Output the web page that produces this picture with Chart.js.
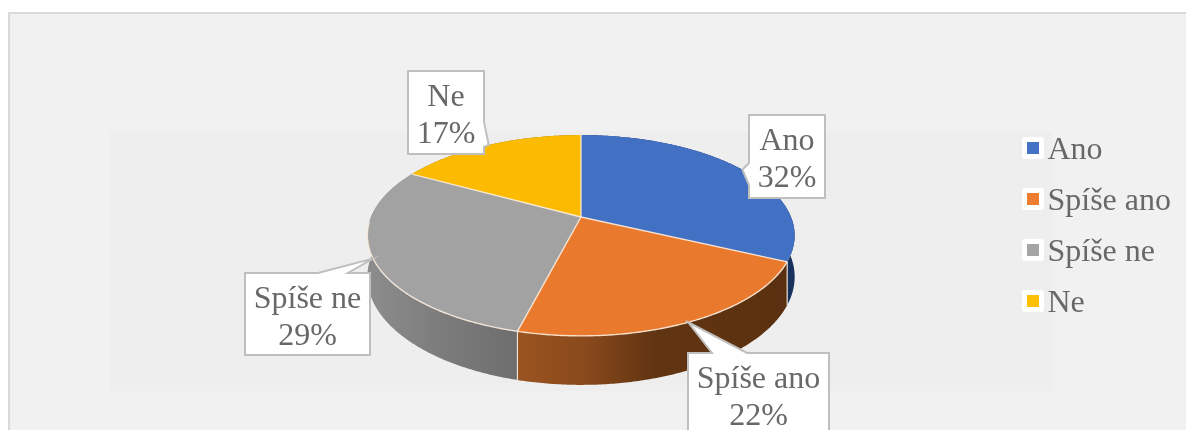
<!DOCTYPE html>
<html><head><meta charset="utf-8">
<style>html,body{margin:0;padding:0;background:#fff;overflow:hidden}canvas{display:block}</style>
<script src="https://cdn.jsdelivr.net/npm/chart.js@4"></script>
</head><body><canvas id="c" width="1186" height="430"></canvas>
<script>
const categories = ['Ano', 'Spíše ano', 'Spíše ne', 'Ne'];
const values = [32, 22, 29, 17];
const sliceColors = ['#4270c2', '#e9792c', '#a2a2a2', '#fcbb00'];
const FONT = '"Liberation Serif", serif';
const TEXT = '#686868';

// projective view of the disc
const view = {cx: 581, cy: 217, R: 210, S: 97, p: 0.184, D: 40};
function project(a, depth) {
  const u = Math.cos(a), v = Math.sin(a), w = 1 - view.p * v;
  return [view.cx + view.R * u / w, view.cy + (view.S * v + (depth ? view.D : 0)) / w];
}
function rim(ctx, a0, a1, depth, moveFirst) {
  const n = Math.max(4, Math.ceil(Math.abs(a1 - a0) / 0.01));
  for (let i = 0; i <= n; i++) {
    const p = project(a0 + (a1 - a0) * i / n, depth);
    if (i === 0 && moveFirst) ctx.moveTo(p[0], p[1]); else ctx.lineTo(p[0], p[1]);
  }
}
const wallStops = [
  [[0, '#17305c'], [1, '#17305c']],
  [[0, '#9a5420'], [0.25, '#8a4a1c'], [0.5, '#623512'], [1, '#5a3010']],
  [[0, '#8c8c8c'], [0.5, '#7c7c7c'], [1, '#6e6e6e']],
  [[0, '#8a6a00'], [1, '#8a6a00']]
];
const wallSpan = [[770, 800], [515, 790], [370, 515], [400, 590]];
const boxes = [
  {x: 749, y: 115, w: 76, h: 83, side: 'left', b0: 163, b1: 185},
  {x: 688, y: 353, w: 141, h: 90, side: 'top', b0: 712, b1: 747},
  {x: 245, y: 273, w: 125, h: 82, side: 'top', b0: 318, b1: 348},
  {x: 408, y: 71, w: 76, h: 83, side: 'right', b0: 122, b1: 147}
];

const pie3d = {
  id: 'pie3d',
  beforeDraw(chart) {
    const c = chart.ctx;
    c.save();
    c.fillStyle = '#ffffff'; c.fillRect(0, 0, 1186, 430);
    c.fillStyle = '#f1f1f1'; c.fillRect(9, 13, 1180, 430);
    c.strokeStyle = '#d9d9d9'; c.lineWidth = 2; c.strokeRect(9, 13, 1180, 430);
    c.fillStyle = '#eeeeee'; c.fillRect(110, 131, 942, 260);
    c.restore();
  },
  beforeDatasetDraw(chart) {
    const c = chart.ctx, arcs = chart.getDatasetMeta(0).data;
    c.save();
    const order = [3, 0, 2, 1];
    order.forEach(i => {
      const el = arcs[i], a0 = el.startAngle, a1 = el.endAngle;
      const g = c.createLinearGradient(wallSpan[i][0], 0, wallSpan[i][1], 0);
      wallStops[i].forEach(s => g.addColorStop(s[0], s[1]));
      c.beginPath();
      rim(c, a0, a1, false, true);
      rim(c, a1, a0, true, false);
      c.closePath();
      c.fillStyle = g; c.fill();
    });
    // seam on the visible wall edges
    c.strokeStyle = 'rgba(255,245,235,0.85)'; c.lineWidth = 1.2;
    [1, 2].forEach(i => {
      const a = arcs[i].endAngle;
      if (Math.sin(a) > 0) {
        const p = project(a, false), q = project(a, true);
        c.beginPath(); c.moveTo(p[0], p[1]); c.lineTo(q[0], q[1]); c.stroke();
      }
    });
    const ab = arcs[0].endAngle, pb = project(ab, false), qb = project(ab, true);
    c.beginPath(); c.moveTo(pb[0], pb[1]); c.lineTo(qb[0], qb[1]); c.stroke();
    arcs.forEach((el, i) => {
      c.beginPath();
      c.moveTo(view.cx, view.cy);
      rim(c, el.startAngle, el.endAngle, false, false);
      c.closePath();
      c.fillStyle = sliceColors[i]; c.fill();
    });
    // slice separators and light front edge
    c.strokeStyle = 'rgba(255,240,225,0.85)'; c.lineWidth = 1.4;
    arcs.forEach(el => {
      const p = project(el.startAngle, false);
      c.beginPath(); c.moveTo(view.cx, view.cy); c.lineTo(p[0], p[1]); c.stroke();
    });
    c.beginPath();
    rim(c, arcs[0].endAngle, arcs[2].endAngle - 0.55, false, true);
    c.stroke();
    c.restore();
    return false;
  },
  afterDatasetsDraw(chart) {
    const c = chart.ctx, arcs = chart.getDatasetMeta(0).data;
    const total = values.reduce((a, b) => a + b, 0);
    c.save();
    arcs.forEach((el, i) => {
      const b = boxes[i], tip = project((el.startAngle + el.endAngle) / 2, false);
      c.beginPath();
      c.moveTo(b.x, b.y);
      if (b.side === 'top') { c.lineTo(b.b0, b.y); c.lineTo(tip[0], tip[1]); c.lineTo(b.b1, b.y); }
      c.lineTo(b.x + b.w, b.y);
      if (b.side === 'right') { c.lineTo(b.x + b.w, b.b0); c.lineTo(tip[0], tip[1]); c.lineTo(b.x + b.w, b.b1); }
      c.lineTo(b.x + b.w, b.y + b.h);
      c.lineTo(b.x, b.y + b.h);
      if (b.side === 'left') { c.lineTo(b.x, b.b1); c.lineTo(tip[0], tip[1]); c.lineTo(b.x, b.b0); }
      c.closePath();
      c.fillStyle = '#ffffff'; c.fill();
      c.strokeStyle = '#bfbfbf'; c.lineWidth = 2; c.lineJoin = 'miter'; c.stroke();
      c.fillStyle = TEXT; c.font = '32px ' + FONT;
      c.textAlign = 'center'; c.textBaseline = 'alphabetic';
      const mx = b.x + b.w / 2;
      c.fillText(categories[i], mx, b.y + 35);
      c.fillText(Math.round(values[i] / total * 100) + '%', mx, b.y + 72);
    });
    c.restore();
  }
};

function marker(color) {
  const m = document.createElement('canvas');
  m.width = 26; m.height = 28;
  const x = m.getContext('2d');
  x.fillStyle = '#ffffff';
  x.beginPath(); x.roundRect(4, 0, 22, 22, 3); x.fill();
  x.fillStyle = color; x.fillRect(9, 5, 12, 12);
  return m;
}

new Chart(document.getElementById('c'), {
  type: 'pie',
  data: {labels: categories, datasets: [{data: values, backgroundColor: sliceColors, borderWidth: 0}]},
  options: {
    responsive: false, animation: false,
    layout: {padding: {top: 25, right: 5}},
    plugins: {
      tooltip: {enabled: false},
      legend: {
        position: 'right',
        labels: {
          font: {family: FONT, size: 32}, color: TEXT, boxWidth: 1, padding: 19, usePointStyle: true,
          generateLabels: () => categories.map((t, i) => ({
            text: t, pointStyle: marker(['#4472c4', '#ed7d31', '#a5a5a5', '#ffc000'][i]),
            fontColor: TEXT,
            fillStyle: sliceColors[i], strokeStyle: sliceColors[i], lineWidth: 0, index: i, hidden: false
          }))
        }
      }
    }
  },
  plugins: [pie3d]
});
</script></body></html>
